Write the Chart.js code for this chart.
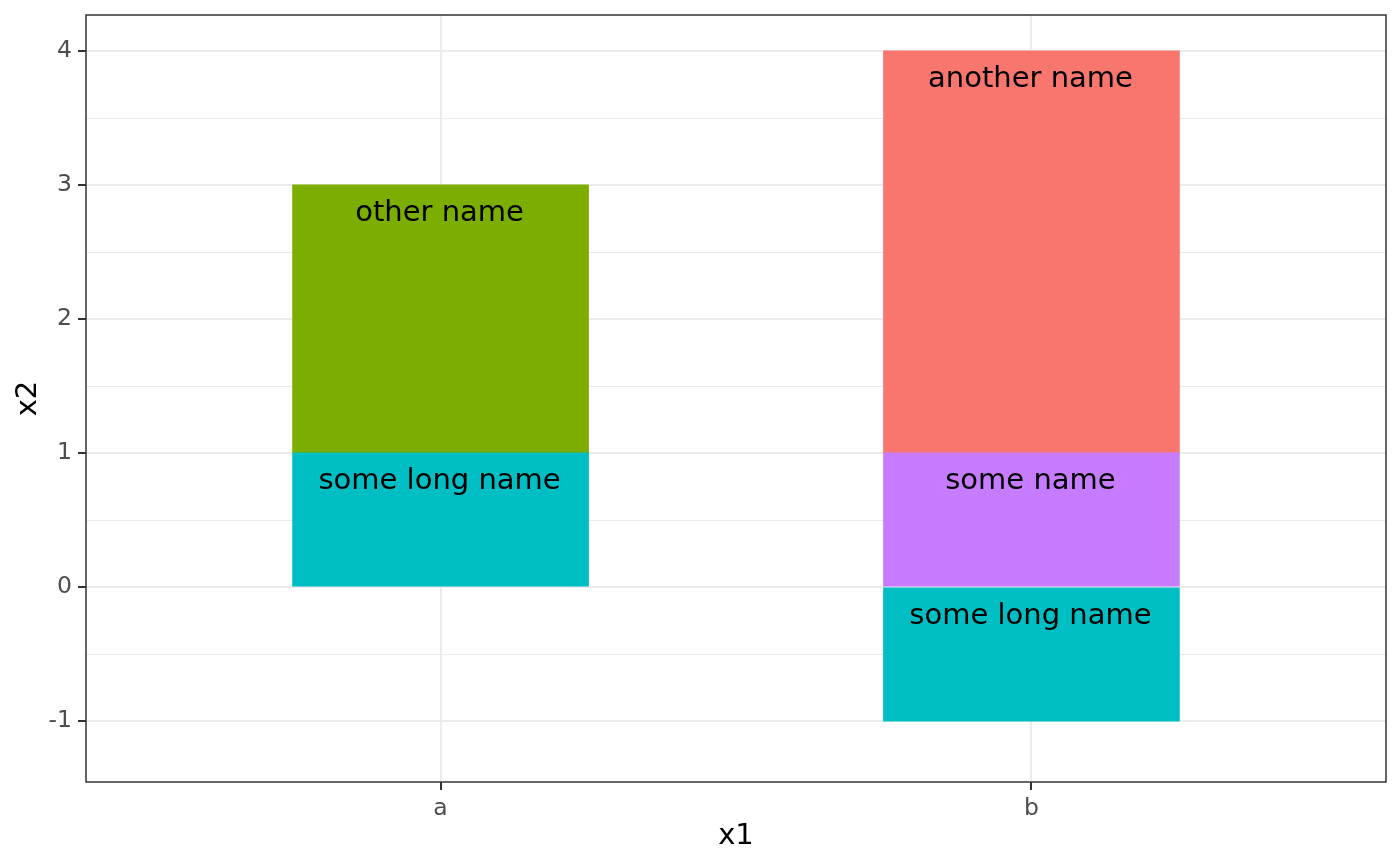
<!DOCTYPE html>
<html lang="en">
  <head>
    <meta charset="UTF-8" />
    <title>x1 / x2</title>
    <style>
      html, body { margin: 0; padding: 0; background: #ffffff; }
      #wrap { width: 1400px; height: 866px; }
    </style>
  </head>
  <body>
    <div id="wrap">
      <canvas id="barChart" width="1400" height="866"></canvas>
    </div>

    <script src="https://cdn.jsdelivr.net/npm/chart.js"></script>
    <script>
      // categories on x1
      const categories = ["a", "b"];

      // one series per fill group (null = no bar for that category)
      const someLongName = [1, -1];
      const someName = [null, 1];
      const otherName = [2, null];
      const anotherName = [null, 3];

      const seriesLabels = ["some long name", "some name", "other name", "another name"];
      const seriesColors = ["#00BFC4", "#C77CFF", "#7CAE00", "#F8766D"];

      // y axis ticks (major get a label, minor only a grid line)
      const yTicks = [-1, -0.5, 0, 0.5, 1, 1.5, 2, 2.5, 3, 3.5, 4];
      const yLabels = ["-1", "", "0", "", "1", "", "2", "", "3", "", "4"];

      const toPoints = (vals) =>
        categories
          .map((c, i) => ({ x: i + 1, y: vals[i] }))
          .filter((p) => p.y !== null);

      const allSeries = [someLongName, someName, otherName, anotherName];

      const datasets = allSeries.map((vals, k) => ({
        label: seriesLabels[k],
        data: toPoints(vals),
        backgroundColor: seriesColors[k],
        borderWidth: 0,
        inflateAmount: 0.6,
        barPercentage: 0.5,
        categoryPercentage: 1,
      }));

      // text at the top of each segment
      const segmentLabels = {
        id: "segmentLabels",
        afterDatasetsDraw(chart) {
          const ctx = chart.ctx;
          ctx.save();
          ctx.font = "29px 'DejaVu Sans'";
          ctx.fillStyle = "#000000";
          ctx.textAlign = "center";
          ctx.textBaseline = "alphabetic";
          chart.data.datasets.forEach((ds, di) => {
            const meta = chart.getDatasetMeta(di);
            meta.data.forEach((bar) => {
              const top = Math.min(bar.y, bar.base);
              ctx.fillText(ds.label, bar.x - 1, top + 36);
            });
          });
          ctx.restore();
        },
      };

      // panel border all round (theme_bw)
      const panelBorder = {
        id: "panelBorder",
        afterDraw(chart) {
          const a = chart.chartArea;
          const ctx = chart.ctx;
          ctx.save();
          ctx.strokeStyle = "#333333";
          ctx.lineWidth = 1.5;
          ctx.strokeRect(a.left, a.top, a.right - a.left, a.bottom - a.top);
          ctx.restore();
        },
      };

      const tickFont = { family: "'DejaVu Sans'", size: 23.5 };
      const titleFont = { family: "'DejaVu Sans'", size: 29 };

      new Chart(document.getElementById("barChart").getContext("2d"), {
        type: "bar",
        data: { datasets: datasets },
        plugins: [segmentLabels, panelBorder],
        options: {
          responsive: false,
          animation: false,
          layout: { padding: { left: 0, right: 14, top: 15, bottom: 0 } },
          plugins: {
            legend: { display: false },
            tooltip: { enabled: false },
          },
          scales: {
            x: {
              type: "linear",
              stacked: true,
              offset: false,
              min: 0.4,
              max: 2.6,
              afterBuildTicks: (scale) => {
                scale.ticks = categories.map((c, i) => ({ value: i + 1 }));
              },
              afterFit: (scale) => {
                scale.height = 84;
                scale.paddingLeft = 0;
                scale.paddingRight = 0;
              },
              ticks: {
                autoSkip: false,
                maxRotation: 0,
                padding: 5,
                color: "#4D4D4D",
                font: tickFont,
                callback: (v) => categories[v - 1],
              },
              grid: {
                offset: false,
                color: "#EBEBEB",
                lineWidth: 2,
                tickColor: "#333333",
                tickLength: 8,
                tickWidth: 2,
              },
              border: { display: false },
              title: {
                display: true,
                text: "x1",
                color: "#000000",
                font: titleFont,
                padding: { top: 0, bottom: 12 },
              },
            },
            y: {
              stacked: true,
              min: -1.4552,
              max: 4.2687,
              afterBuildTicks: (scale) => {
                scale.ticks = yTicks.map((v) => ({ value: v }));
              },
              afterFit: (scale) => {
                scale.width = 86;
                scale.paddingTop = 0;
                scale.paddingBottom = 0;
              },
              ticks: {
                autoSkip: false,
                padding: 6,
                color: "#4D4D4D",
                font: tickFont,
                callback: (v) => yLabels[yTicks.indexOf(v)],
              },
              grid: {
                color: "#EBEBEB",
                lineWidth: (c) => (Number.isInteger(c.tick.value) ? 2 : 1),
                tickColor: (c) =>
                  Number.isInteger(c.tick.value) ? "#333333" : "rgba(0,0,0,0)",
                tickLength: 8,
                tickWidth: 2,
              },
              border: { display: false },
              title: {
                display: true,
                text: "x2",
                color: "#000000",
                font: titleFont,
                padding: { top: 11, bottom: 0 },
              },
            },
          },
        },
      });
    </script>
  </body>
</html>
